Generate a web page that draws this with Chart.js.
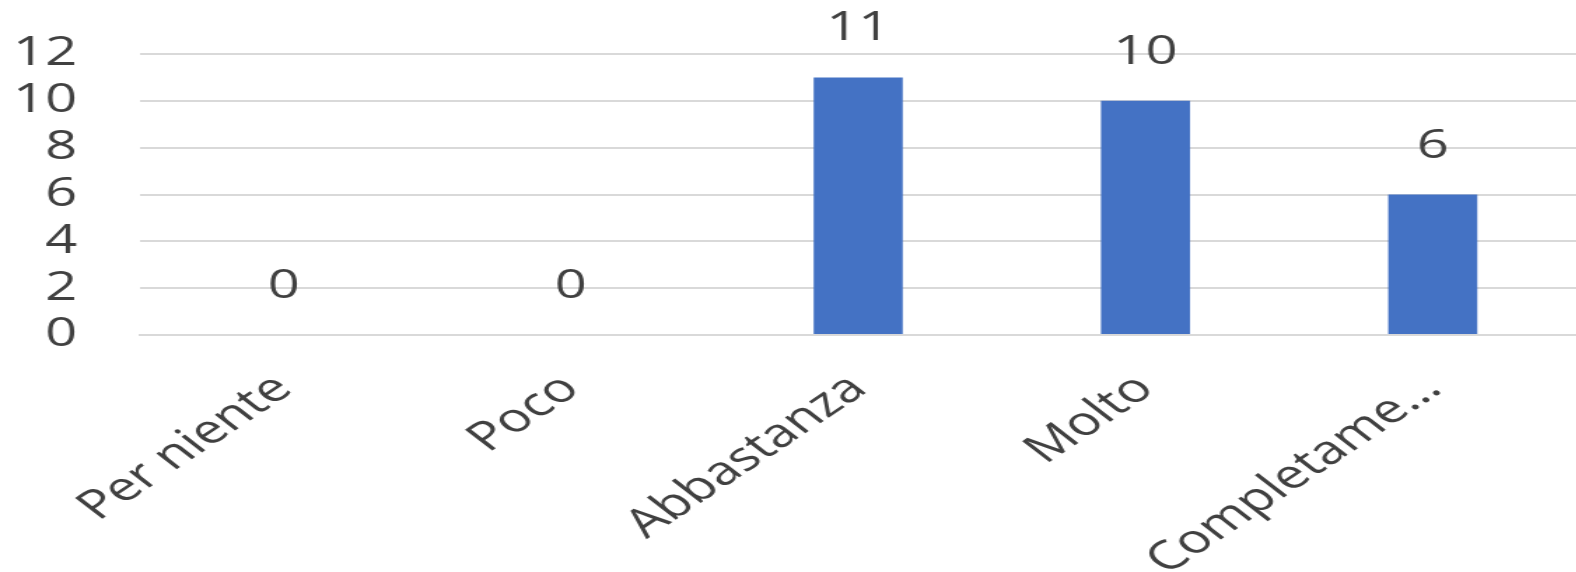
<!DOCTYPE html>
<html>
<head>
<meta charset="utf-8">
<script src="https://cdn.jsdelivr.net/npm/chart.js@4.4.1/dist/chart.umd.min.js"></script>
<style>
  html, body { margin: 0; padding: 0; background: #fff; overflow: hidden; }
  /* the reference is stretched sideways, so draw narrow and stretch */
  #wrap { width: 1126px; height: 572px; transform: scaleX(1.4); transform-origin: 0 0; }
</style>
</head>
<body>
<div id="wrap"><canvas id="barchart"></canvas></div>
<script>
const categories = ['Per niente', 'Poco', 'Abbastanza', 'Molto', 'Completamente'];
const values = [0, 0, 11, 10, 6];
const yTicks = [0, 2, 4, 6, 8, 10, 12];

const textColor = '#404040';
const fontFamily = '"Open Sans", "Noto Sans", sans-serif';

// draws the value above each bar
const valueLabels = {
    id: 'valueLabels',
    afterDatasetsDraw(chart) {
        const ctx = chart.ctx;
        const meta = chart.getDatasetMeta(0);
        ctx.save();
        ctx.fillStyle = textColor;
        ctx.font = '40px ' + fontFamily;
        ctx.textAlign = 'center';
        ctx.textBaseline = 'alphabetic';
        meta.data.forEach(function(bar, i) {
            ctx.fillText(String(values[i]), bar.x, bar.y - 37);
        });
        ctx.restore();
    }
};

const ctx = document.getElementById('barchart').getContext('2d');
const myBarChart = new Chart(ctx, {
    type: 'bar',
    data: {
        labels: categories,
        datasets: [{
            data: values,
            backgroundColor: '#4472C4',
            borderWidth: 0,
            barPercentage: 0.31,
            categoryPercentage: 1
        }]
    },
    options: {
        responsive: true,
        maintainAspectRatio: false,
        animation: false,
        layout: { padding: { top: 54, right: 0, left: 0, bottom: 0 } },
        plugins: {
            legend: { display: false },
            tooltip: { enabled: false }
        },
        scales: {
            x: {
                grid: { display: false },
                border: { color: '#d9d9d9', width: 2 },
                ticks: {
                    color: textColor,
                    font: { size: 40, family: fontFamily },
                    minRotation: 43,
                    maxRotation: 43,
                    autoSkip: false,
                    padding: 22,
                    callback: function(value, index) {
                        const s = categories[index];
                        return s.length > 10 ? s.slice(0, 10) + '\u2026' : s;
                    }
                },
                afterFit: function(scale) { scale.height = 237; }
            },
            y: {
                min: 0,
                max: 12,
                grid: {
                    color: '#d9d9d9',
                    lineWidth: 2,
                    drawTicks: true,
                    tickLength: 41,
                    tickColor: 'rgba(0,0,0,0)'
                },
                border: { display: false },
                afterBuildTicks: function(scale) {
                    scale.ticks = yTicks.map(function(v) { return { value: v }; });
                },
                ticks: {
                    color: textColor,
                    font: { size: 40, family: fontFamily },
                    autoSkip: false,
                    padding: 4
                },
                afterFit: function(scale) { scale.width = 100; }
            }
        }
    },
    plugins: [valueLabels]
});
</script>
</body>
</html>
